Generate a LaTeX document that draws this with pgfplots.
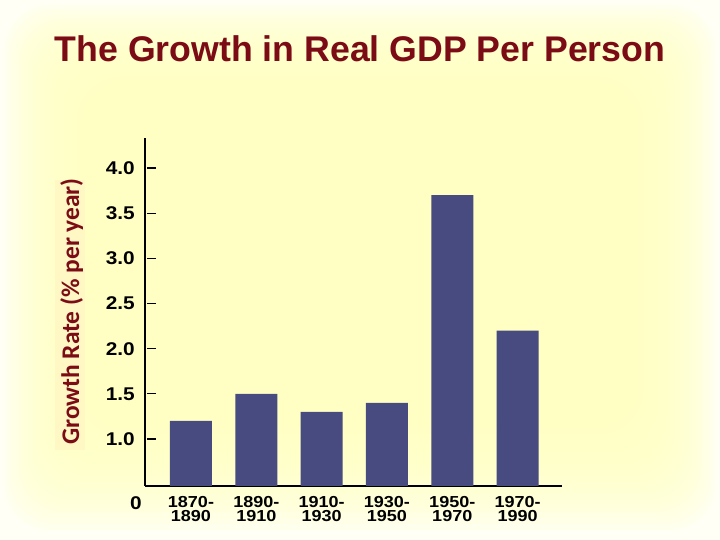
\documentclass[border=0pt]{standalone}
\usepackage{pgfplots}
\pgfplotsset{compat=1.18}
\usepackage{fontspec}
\setmainfont{Liberation Sans}
\newfontfamily\labfont{Carlito}
\newfontfamily\tickfont[FakeStretch=1.13]{Liberation Sans}
\definecolor{titlered}{HTML}{7B0C15}
\definecolor{barblue}{HTML}{474B7F}
\definecolor{bgy}{HTML}{FFFFC4}
\definecolor{bgw}{HTML}{FFFFF5}
\definecolor{labbg}{HTML}{FFF7C4}
\begin{document}
\begin{tikzpicture}[x=1bp,y=1bp]
\useasboundingbox (0,0) rectangle (720,540);
\fill[bgw] (0,0) rectangle (720,540);
\foreach \i in {0,...,17}{
  \fill[bgy, opacity=0.13, rounded corners=45bp] (5+4.5*\i, 10+6*\i) rectangle (715-4.5*\i, 535-4.5*\i);
}
\fill[labbg] (55,90) rectangle (85,360);
\node[rotate=90, anchor=base, inner sep=0pt, text=titlered, font=\labfont\bfseries\fontsize{25.5}{25.5}\selectfont] at (79,228.5) {Growth Rate (\% per year)};
\node[anchor=base, inner sep=0pt, text=titlered, font=\bfseries\fontsize{35.8}{35.8}\selectfont] at (360,478) {The Growth in Real GDP Per Person};
\begin{axis}[
  at={(145bp,54bp)}, anchor=south west,
  scale only axis, width=417bp, height=348bp,
  xmin=-0.704, xmax=5.68, ymin=0.48, ymax=4.332,
  axis lines=left, clip=false,
  axis line style={-, line width=1.5bp, black},
  xtick={0,1,2,3,4,5},
  xticklabels={1870-\\1890,1890-\\1910,1910-\\1930,1930-\\1950,1950-\\1970,1970-\\1990},
  x tick label style={align=center, anchor=north, inner sep=0pt, yshift=-10bp, font=\tickfont\bfseries\fontsize{16}{14.5}\selectfont},
  x tick style={draw=none},
  ytick={1.0,1.5,2.0,2.5,3.0,3.5,4.0},
  yticklabel style={anchor=east, inner sep=0pt, xshift=-10bp, font=\tickfont\bfseries\fontsize{18.5}{18.5}\selectfont,
    /pgf/number format/.cd, fixed, fixed zerofill, precision=1, assume math mode=true},
  tick align=inside,
  major tick length=9bp,
  y tick style={line width=1.3bp, black, xshift=2bp},
]
\addplot[ybar, bar width=42bp, fill=barblue, draw=none] coordinates {(0,1.2) (1,1.5) (2,1.3) (3,1.4) (4,3.7) (5,2.2)};
\node[anchor=north east, inner sep=0pt, xshift=-3bp, yshift=-10bp, font=\tickfont\bfseries\fontsize{18.5}{18.5}\selectfont] at (axis description cs:0,0) {0};
\end{axis}
\end{tikzpicture}
\end{document}
